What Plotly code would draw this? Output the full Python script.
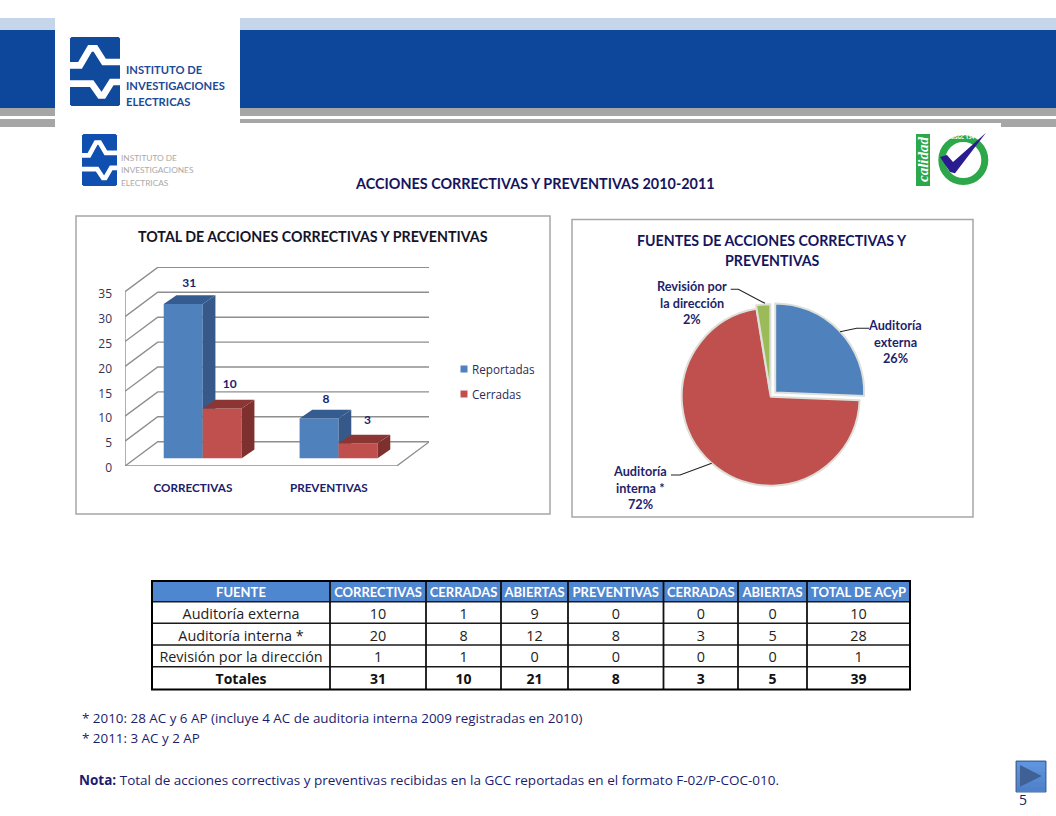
import plotly.graph_objects as go

# ---------- data ----------
categories = ["CORRECTIVAS", "PREVENTIVAS"]
reportadas = [31, 8]
cerradas = [10, 3]
series_names = ["Reportadas", "Cerradas"]
y_ticks = [0, 5, 10, 15, 20, 25, 30, 35]

pie_labels = ["Auditoría externa", "Auditoría interna *", "Revisión por la dirección"]
pie_values = [10, 28, 1]
pie_percent = ["26%", "72%", "2%"]

table_header = ["FUENTE", "CORRECTIVAS", "CERRADAS", "ABIERTAS", "PREVENTIVAS", "CERRADAS", "ABIERTAS", "TOTAL DE ACyP"]
col_fuente = ["Auditoría externa", "Auditoría interna *", "Revisión por la dirección", "Totales"]
col_correctivas = [10, 20, 1, 31]
col_cerradas_c = [1, 8, 1, 10]
col_abiertas_c = [9, 12, 0, 21]
col_preventivas = [0, 8, 0, 8]
col_cerradas_p = [0, 3, 0, 3]
col_abiertas_p = [0, 5, 0, 5]
col_total = [10, 28, 1, 39]

# ---------- helpers ----------
W, H = 1056, 816
NAVY = "#1c1c6e"
BODY = "Open Sans, sans-serif"
CAL = "Lato, sans-serif"


def X(p):
    return p / W


def Y(p):
    return 1 - p / H


shapes = []
annotations = []


def rect(x0, y0, x1, y1, fill, line=None, lw=0, layer="below"):
    shapes.append(dict(type="rect", xref="paper", yref="paper", x0=X(x0), x1=X(x1), y0=Y(y0), y1=Y(y1),
                       fillcolor=fill, line=dict(color=line or fill, width=lw), layer=layer))


def path(points, fill=None, line=None, lw=0, close=False, layer="below"):
    d = "M" + " L".join(f"{X(a):.5f},{Y(b):.5f}" for a, b in points) + (" Z" if close else "")
    shapes.append(dict(type="path", xref="paper", yref="paper", path=d,
                       fillcolor=fill if fill else "rgba(0,0,0,0)",
                       line=dict(color=line or "rgba(0,0,0,0)", width=lw), layer=layer))


def text(x, y, s, size=12, color=NAVY, font=BODY, anchor="center", bold=False, angle=0, italic=False):
    if bold:
        s = f"<b>{s}</b>"
    if italic:
        s = f"<i>{s}</i>"
    if anchor == "left":
        x -= 2  # annotation box padding
    annotations.append(dict(xref="paper", yref="paper", x=X(x), y=Y(y), text=s, showarrow=False,
                            xanchor=anchor, yanchor="middle", textangle=angle,
                            font=dict(size=size, color=color, family=font)))


# ---------- banner ----------
rect(0, 18, W, 30, "#c6d6ea")
rect(0, 30, W, 108, "#0d479c")
rect(0, 108, W, 116, "#a6a6a6")
rect(0, 119, W, 127, "#a6a6a6")
rect(55, 0, 240, 127, "#ffffff")
rect(240, 123, 1001, 127, "#ffffff")


def logo(x0, y0, x1, y1, color):
    sx = (x1 - x0) / 150.0
    sy = (y1 - y0) / 207.0
    pt = lambda a, b: (x0 + a * sx, y0 + b * sy)
    c = 1.5
    path([(x0 + c, y0), (x1 - c, y0), (x1, y0 + c), (x1, y1 - c), (x1 - c, y1), (x0 + c, y1), (x0, y1 - c), (x0, y0 + c)],
         fill=color, close=True)
    lw = max(3, 20 * sx)
    path([pt(0, 85), pt(30, 85), pt(60, 34), pt(76, 34), pt(102, 75), pt(150, 75)], line="#ffffff", lw=lw)
    path([pt(0, 140), pt(65, 140), pt(90, 175), pt(100, 175), pt(125, 135), pt(150, 135)], line="#ffffff", lw=lw)


logo(70, 37, 120, 106, "#0f4a9c")
logo(82, 134, 117, 186, "#0f4fb0")
for i, s in enumerate(["INSTITUTO DE", "INVESTIGACIONES", "ELECTRICAS"]):
    text(126, 69.5 + i * 15.8, s, size=11.2, color="#1b4a96", font=CAL, anchor="left", bold=True)
    text(121, 158 + i * 12.3, s, size=8.3, color="#a9a9a9", font=CAL, anchor="left")

# quality seal
rect(916, 134, 930, 186, "#2ca84a")
text(923, 160, "calidad", size=15, color="#ffffff", font="Liberation Serif", angle=-90, bold=True, italic=True)
shapes.append(dict(type="circle", xref="paper", yref="paper", x0=X(941.8), x1=X(984.8), y0=Y(138.5), y1=Y(181.5),
                   fillcolor="#ffffff", line=dict(color="#2ca84a", width=7), layer="below"))
path([(940, 157), (947, 155), (953, 162), (986, 132.7), (955, 173.3), (950, 172)], fill="#2a1c90", close=True)
text(962, 137, "MSGC 134", size=5, color="#ffffff", bold=True)

# main title
text(535, 184, "ACCIONES CORRECTIVAS Y PREVENTIVAS 2010-2011", size=14.4, color="#15155e", font=CAL, bold=True)

# panels
rect(76, 216, 550, 514, "#ffffff", "#a6a6a6", 1.5)
rect(572, 219.5, 973, 517, "#ffffff", "#a6a6a6", 1.5)
text(312.7, 236.5, "TOTAL DE ACCIONES CORRECTIVAS Y PREVENTIVAS", size=14.25, color="#141428", font=CAL, bold=True)
text(772, 240, "FUENTES DE ACCIONES CORRECTIVAS Y", size=14.2, color="#15155e", font=CAL, bold=True)
text(772, 260.5, "PREVENTIVAS", size=14.2, color="#15155e", font=CAL, bold=True)

# ---------- 3D column chart, in value units ----------
CAT_PX = 135.85       # pixels per category on the x axis
UNIT_PX = 4.98        # pixels per value unit on the y axis
PLOT_L, PLOT_R, PLOT_B, PLOT_T = 125, 429, 466, 267
x_min = -0.5
x_max = x_min + (PLOT_R - PLOT_L) / CAT_PX
y_max = (PLOT_B - PLOT_T) / UNIT_PX

wall_dx, wall_dy = 32.7 / CAT_PX, 24.3 / UNIT_PX
bar_dx, bar_dy = 12.7 / CAT_PX, 8.7 / UNIT_PX
bar_base = 7.7 / UNIT_PX
bar_shift = 9.8 / CAT_PX
bar_w = 39.0 / CAT_PX
front_right = x_min + (396.7 - PLOT_L) / CAT_PX

traces = []
GRID = "#8e8e8e"
for v in y_ticks:
    traces.append(go.Scatter(x=[x_min, x_min + wall_dx, x_max], y=[v, v + wall_dy, v + wall_dy], mode="lines",
                             line=dict(color=GRID, width=1.4), hoverinfo="skip", showlegend=False,
                             xaxis="x", yaxis="y"))
traces.append(go.Scatter(x=[x_min, x_min, front_right, front_right + wall_dx],
                         y=[y_ticks[-1], 0, 0, wall_dy], mode="lines",
                         line=dict(color=GRID, width=1.4), hoverinfo="skip", showlegend=False,
                         xaxis="x", yaxis="y"))

positions = [i + bar_shift for i in range(len(categories))]


def column_series(values, name, offset, front, side, top, axis):
    traces.append(go.Bar(x=positions, y=values, base=[bar_base] * len(values), width=bar_w, offset=offset,
                         marker=dict(color=front, line=dict(width=0)), name=name, showlegend=False,
                         xaxis="x", yaxis=axis))
    for p, v in zip(positions, values):
        l, r = p + offset, p + offset + bar_w
        t = bar_base + v
        traces.append(go.Scatter(x=[r, r + bar_dx, r + bar_dx, r, r], y=[bar_base, bar_base + bar_dy, t + bar_dy, t, bar_base],
                                 mode="lines", fill="toself", fillcolor=side, line=dict(width=0),
                                 hoverinfo="skip", showlegend=False, xaxis="x", yaxis=axis))
        traces.append(go.Scatter(x=[l, l + bar_dx, r + bar_dx, r, l], y=[t, t + bar_dy, t + bar_dy, t, t],
                                 mode="lines", fill="toself", fillcolor=top, line=dict(width=0),
                                 hoverinfo="skip", showlegend=False, xaxis="x", yaxis=axis))


column_series(reportadas, series_names[0], -bar_w, "#4f81bd", "#36598a", "#345c90", "y2")
column_series(cerradas, series_names[1], 0, "#c0504d", "#7e302e", "#8c3634", "y3")

lbl_x = [positions[0] - bar_w / 2 + 6 / CAT_PX, positions[0] + bar_w / 2 + 7.5 / CAT_PX,
         positions[1] - bar_w / 2 + 7 / CAT_PX, positions[1] + bar_w / 2 + 9.5 / CAT_PX]
lbl_v = [reportadas[0], cerradas[0], reportadas[1], cerradas[1]]
lbl_lift = [4.1, 4.8, 3.8, 4.4]
traces.append(go.Scatter(x=lbl_x, y=[bar_base + v + d for v, d in zip(lbl_v, lbl_lift)],
                         text=[f"<b>{v}</b>" for v in lbl_v], mode="text",
                         textfont=dict(size=12, color="#1c1c6e", family=CAL), textposition="middle center",
                         hoverinfo="skip", showlegend=False, xaxis="x", yaxis="y3"))

# legend
for i, name in enumerate(series_names):
    c = ["#4f81bd", "#c0504d"][i]
    rect(460.5, 365.5 + i * 25, 467.5, 372.5 + i * 25, c)
    text(472, 369 + i * 25, name, size=11.7, color="#2b2b55", anchor="left")

# ---------- pie ----------
CX, CY, R = 770.7, 396.7, 89
pulls = [0.07, 0.0, 0.04]
half = R * (1 + max(pulls))
traces.append(go.Pie(labels=pie_labels, values=pie_values, sort=False, direction="clockwise", rotation=0,
                     pull=pulls, textinfo="none", hoverinfo="label+percent", showlegend=False, automargin=False,
                     marker=dict(colors=["#4f81bd", "#c0504d", "#9bbb59"], line=dict(color="#dde0da", width=2)),
                     domain=dict(x=[X(CX - half), X(CX + half)], y=[Y(CY + half), Y(CY - half)])))

pie_lines = [["Auditoría", "externa", pie_percent[0]],
             ["Auditoría", "interna *", pie_percent[1]],
             ["Revisión por", "la dirección", pie_percent[2]]]
pie_anchor = [(895, 325.3), (640, 471), (691.7, 286)]
for lines, (ax, ay) in zip(pie_lines, pie_anchor):
    for j, s in enumerate(lines):
        text(ax, ay + j * 16.5, s, size=12.7, color="#1f1f6b", font=CAL, bold=True)
path([(869, 328.3), (856.7, 328.3), (840, 331.7)], line="#222222", lw=1.1, layer="above")
path([(671, 475), (680, 475), (711.7, 463.3)], line="#222222", lw=1.1, layer="above")
path([(730.7, 289.3), (738.3, 289.3), (765, 303.3)], line="#222222", lw=1.1, layer="above")

# ---------- table ----------
edges = [152, 330, 426, 501, 568, 663.5, 738, 807, 910]
row_lines = [601.7, 623.3, 645, 666.7]
TOP, BOTTOM = 581, 689.5
widths = [b - a for a, b in zip(edges, edges[1:])]
columns = [col_fuente, col_correctivas, col_cerradas_c, col_abiertas_c, col_preventivas,
           col_cerradas_p, col_abiertas_p, col_total]
NB = "\u00a0"
cell_values = [[str(v).replace(" ", NB) for v in c[:-1]] for c in columns]
total_values = [str(c[-1]) for c in columns]
CLEAR = "rgba(0,0,0,0)"
rect(edges[0], TOP, edges[-1], row_lines[0], "#4f86d0")
for yy in row_lines:
    path([(edges[0], yy), (edges[-1], yy)], line="#1a1a1a", lw=1.4)
for xx in edges[1:-1]:
    path([(xx, TOP), (xx, BOTTOM)], line="#111111", lw=1.8)
rect(edges[0], TOP, edges[-1], BOTTOM, CLEAR, "#000000", 2)
traces.append(go.Table(
    domain=dict(x=[X(edges[0]), X(edges[-1])], y=[Y(665.5), Y(579)]),
    columnwidth=widths,
    header=dict(values=[h.replace(" ", NB) for h in table_header], height=21, align="center",
                fill_color=CLEAR, line=dict(color=CLEAR, width=0),
                font=dict(family=CAL, size=13, color="#ffffff", weight="bold")),
    cells=dict(values=cell_values, height=21.7, align="center", fill_color=CLEAR,
               line=dict(color=CLEAR, width=0),
               font=dict(family=BODY, size=14.4, color="#222222")),
))
traces.append(go.Table(
    domain=dict(x=[X(edges[0]), X(edges[-1])], y=[Y(689), Y(665.7)]),
    columnwidth=widths,
    header=dict(values=total_values, height=22.5, align="center",
                fill_color=CLEAR, line=dict(color=CLEAR, width=0),
                font=dict(family=BODY, size=14, color="#111111", weight="bold")),
))

# ---------- notes ----------
text(82, 718, "* 2010: 28 AC y 6 AP (incluye 4 AC de auditoria interna 2009 registradas en 2010)", size=13.4, anchor="left")
text(82, 738, "* 2011: 3 AC y 2 AP", size=13.4, anchor="left")
text(79, 780, "<b>Nota:</b> Total de acciones correctivas y preventivas recibidas en la GCC reportadas en el formato F-02/P-COC-010.",
     size=13.5, anchor="left")

# ---------- navigation button and page number ----------
steps = ["#5e95de", "#5b91da", "#588dd6", "#5589d2", "#5285ce", "#4f81ca"]
rect(1016, 761, 1046, 792, "#4a6fa5", "#47699c", 1)
for i, c in enumerate(steps):
    rect(1017, 762 + i * 5, 1045, 767 + i * 5, c)
path([(1020, 765), (1041.7, 776), (1020, 786.7)], fill="#3f6196", close=True)
text(1022.5, 799, "5", size=14, color="#1c1c5e")

# ---------- figure ----------
fig = go.Figure(traces)
fig.update_layout(
    width=W, height=H, margin=dict(l=0, r=0, t=0, b=0, autoexpand=False), paper_bgcolor="#ffffff", plot_bgcolor="rgba(0,0,0,0)",
    showlegend=False, shapes=shapes, annotations=annotations, barmode="overlay",
    xaxis=dict(domain=[X(PLOT_L), X(PLOT_R)], range=[x_min, x_max], tickvals=list(range(len(categories))),
               ticktext=[f"<b>{c}</b>" for c in categories], showgrid=False, zeroline=False, showline=False, automargin=False,
               ticks="", ticklabelstandoff=13, anchor="y", tickfont=dict(family=CAL, size=11.7, color="#20206a")),
    yaxis=dict(domain=[Y(PLOT_B), Y(PLOT_T)], range=[0, y_max], tickvals=y_ticks, showgrid=False, zeroline=False,
               showline=False, ticks="", ticklabelstandoff=12, ticklabelshift=2, anchor="x", automargin=False,
               tickfont=dict(family=BODY, size=12, color="#333355")),
    yaxis2=dict(overlaying="y", range=[0, y_max], visible=False),
    yaxis3=dict(overlaying="y", range=[0, y_max], visible=False),
)
fig.write_html("out.html", config={"displayModeBar": False},
               post_script="document.body.style.margin='0';document.documentElement.style.overflow='hidden';")
